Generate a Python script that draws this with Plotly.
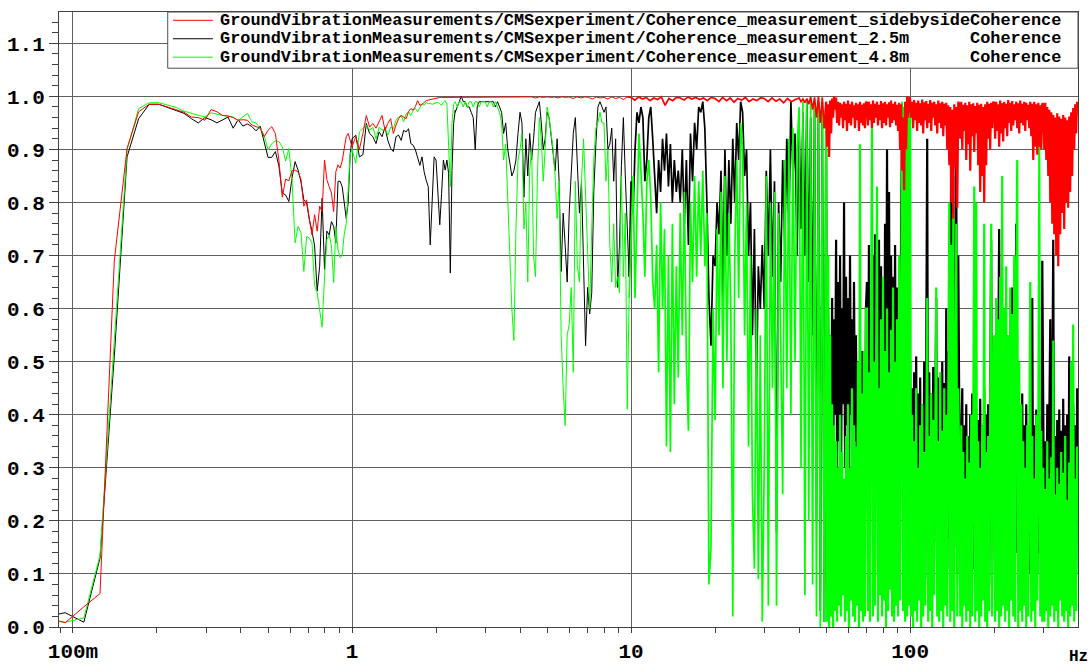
import numpy as np
import plotly.graph_objects as go

# ---------------- data ----------------
DF_HZ = 1 / 64  # FFT bin spacing
LF_BINS = list(range(5, 65)) + list(range(66, 151, 2))
LF_FREQ_HZ = [k * DF_HZ for k in LF_BINS]

# low-frequency coherence, thousandths
RED_LF = [20, 8, 38, 63, 690, 902, 971, 985, 985, 980, 975, 970, 961, 960, 955, 975, 971, 964, 963, 960,
          955, 956, 955, 946, 943, 940, 924, 936, 943, 930, 880, 810, 844, 841, 860, 861, 858, 843, 793, 805,
          768, 739, 777, 746, 793, 783, 880, 843, 830, 818, 783, 858, 871, 865, 878, 900, 924, 930, 915, 905,
          924, 900, 930, 964, 942, 949, 940, 952, 964, 936, 949, 958, 930, 946, 958, 964, 961, 958, 971, 977,
          974, 981, 992, 983, 985, 989, 992, 993, 994, 995, 996, 997, 997, 998, 998, 998, 998, 998, 998, 998,
          998, 998, 998]
BLACK_LF = [18, 27, 9, 130, 510, 886, 958, 985, 985, 979, 973, 968, 958, 950, 960, 956, 950, 956, 961, 940,
            956, 944, 948, 943, 935, 944, 914, 885, 885, 896, 869, 818, 814, 802, 846, 877, 861, 839, 805, 799,
            768, 746, 718, 633, 680, 808, 674, 746, 739, 764, 755, 724, 840, 840, 830, 800, 770, 800, 890, 920,
            927, 886, 890, 949, 930, 924, 911, 933, 924, 942, 917, 902, 896, 924, 927, 917, 936, 933, 939, 911,
            908, 899, 886, 870, 886, 858, 842, 830, 720, 817, 886, 880, 805, 758, 817, 880, 861, 880, 855, 667,
            860, 949, 974]
GREEN_LF = [14, 9, 17, 135, 540, 899, 977, 988, 988, 983, 979, 972, 968, 965, 961, 969, 966, 964, 963, 961,
            954, 961, 968, 952, 950, 940, 927, 899, 911, 916, 915, 905, 878, 902, 843, 724, 755, 743, 670, 736,
            733, 724, 643, 630, 600, 565, 660, 730, 739, 718, 649, 755, 711, 696, 700, 740, 760, 840, 890, 900,
            874, 933, 940, 946, 936, 942, 920, 942, 936, 939, 927, 942, 939, 955, 961, 964, 952, 967, 971, 964,
            974, 977, 971, 980, 986, 983, 989, 986, 987, 985, 986, 987, 989, 986, 983, 989, 992, 986, 900, 830,
            950, 985, 990]

# dense part: frequency bands and the values read inside each band
BAND_EDGES_HZ = [2.34375, 3, 4, 5, 6, 8, 10, 15, 20, 30, 40, 50, 70, 100, 150, 200, 300, 400]

# red, thousandths
RED_BANDS = [
    [998, 999, 998, 999, 999, 998, 999, 999],
    [999, 998, 999, 999, 998, 999, 999, 998],
    [999, 998, 999, 999, 997, 999, 998],
    [999, 998, 999, 997, 999, 998],
    [999, 996, 999, 997, 999, 998, 995, 999, 997],
    [998, 995, 999, 996, 998, 994, 999],
    [998, 993, 999, 995, 998, 992, 997, 994, 999, 983, 996, 992, 998],
    [997, 993, 999, 995, 998, 994, 997, 992, 998],
    [996, 990, 998, 992, 997, 989, 996, 993, 998, 990, 995, 992, 997],
    [996, 990, 997, 991, 995, 988, 996, 990, 994],
    [997, 990, 995, 988, 996, 985, 999, 975, 998, 960, 1000, 950, 998, 940],
    [990, 905, 985, 886, 992, 930, 996, 960, 1000, 975, 998, 950, 990, 945, 988, 960, 985, 940, 990, 955,
     986, 935, 992, 950, 985, 945, 990, 960, 983, 940, 988, 955, 985, 935, 990, 950, 984, 945, 987, 940, 990],
    [988, 945, 990, 955, 985, 940, 992, 950, 986, 960, 990, 945, 984, 955, 991, 940, 987, 950, 990, 945,
     985, 960, 989, 942, 992, 950, 986, 955, 990, 945, 984, 935, 988, 900, 985, 860, 960, 823, 990, 900,
     1000, 960, 998],
    [995, 960, 990, 940, 993, 955, 988, 935, 992, 950, 987, 945, 994, 930, 989, 955, 991, 940, 986, 950,
     993, 935, 988, 960, 990, 945, 985, 930, 992, 950, 987, 940, 990, 925, 986, 945, 988, 900, 983, 870,
     980, 800, 975, 770, 985, 867, 980, 790, 990],
    [985, 920, 990, 900, 984, 935, 988, 880, 983, 910, 990, 860, 985, 925, 987, 895, 982, 930, 988, 870,
     984, 820, 986, 850, 980, 800, 985, 870, 990, 920, 986, 900, 988, 940, 990],
    [988, 920, 990, 935, 985, 905, 992, 930, 987, 915, 990, 940, 986, 925, 993, 950, 988, 935, 991, 945,
     985, 955, 990, 940, 987, 930, 992, 950, 986, 945, 990, 935, 988, 955, 984, 940, 990, 925, 986, 880,
     990, 905, 985, 890, 988, 905, 983, 900, 987],
    [985, 900, 988, 880, 980, 850, 975, 800, 970, 760, 965, 740, 960, 700, 968, 680, 962, 740, 958, 780,
     965, 750, 960, 800, 955, 790, 962, 820, 970, 850, 978, 900, 985, 930, 990],
]

# black, percent
BLACK_BANDS = [
    [97, 98, 99, 100, 99, 99, 98, 98, 97, 96, 90, 98, 99, 99, 99],
    [99, 99, 99, 99, 99, 98, 99, 98, 97, 93, 95, 90, 87, 85, 86, 88, 93],
    [97, 95, 81, 92, 85, 93, 88, 92, 97, 98, 99, 95, 90, 92],
    [97, 96, 93, 90, 86, 92, 84, 67, 78, 72, 65],
    [78, 87, 93, 96, 86, 78, 84, 69, 53, 64, 59, 63, 82, 91, 98, 99, 98],
    [97, 98, 90, 91, 94, 84, 92, 64, 72, 87, 96, 85, 76, 66],
    [84, 78, 90, 97, 95, 98, 96, 84, 88, 96, 98, 92, 86, 78, 88, 82, 92, 86, 93, 83, 91, 80, 88, 82, 86],
    [80, 90, 76, 88, 72, 93, 84, 95, 90, 98, 97, 99, 94, 80, 62, 53, 70],
    [68, 80, 74, 86, 62, 90, 70, 88, 76, 92, 80, 95, 88, 99, 97, 85, 90, 70, 80, 55, 75, 44, 68, 60, 72],
    [60, 86, 70, 90, 66, 84, 18, 80, 65, 88, 72, 92, 75, 99, 85, 93, 70],
    [95, 75, 97, 70, 99, 65, 96, 55, 98, 20, 99, 3, 98, 1],
    [90, 20, 60, 35, 55, 30, 62, 25, 58, 40, 73, 30, 65, 35, 70, 28, 60, 42, 80, 30, 66, 38, 62, 25, 70,
     40, 58, 30, 65, 35, 55, 20, 50, 30, 45, 15, 52, 25, 48, 20, 60],
    [65, 30, 72, 25, 60, 40, 70, 35, 74, 28, 66, 45, 73, 30, 68, 38, 62, 25, 76, 35, 90, 40, 82, 30, 70,
     45, 66, 35, 72, 28, 64, 40, 60, 30, 75, 98, 35, 80, 25, 70, 20, 65, 30],
    [50, 10, 45, 15, 48, 8, 51, 12, 44, 18, 47, 10, 42, 14, 50, 9, 46, 92, 12, 48, 15, 44, 8, 49, 16, 45,
     62, 10, 47, 13, 43, 18, 50, 9, 46, 14, 60, 11, 52, 17, 58, 92, 12, 85, 15, 72, 88, 10, 70],
    [40, 8, 35, 45, 10, 38, 12, 42, 6, 36, 14, 40, 9, 44, 11, 37, 8, 41, 13, 39, 7, 43, 10, 38, 12, 45, 9,
     40, 14, 42, 8, 38, 73, 10, 48],
    [50, 10, 55, 20, 48, 75, 15, 52, 18, 58, 12, 50, 22, 55, 10, 47, 16, 53, 64, 12, 50, 20, 76, 14, 45,
     18, 40, 10, 44, 15, 38, 12, 42, 20, 36, 10, 40, 15, 62, 12, 38, 18, 41, 10, 35, 14, 40, 12, 69],
    [40, 10, 35, 15, 42, 8, 38, 58, 12, 40, 73, 10, 36, 14, 39, 9, 41, 12, 37, 16, 43, 10, 38, 13, 40, 9,
     51, 15, 36, 10, 42, 12, 38, 10, 45],
]

# green, percent
GREEN_BANDS = [
    [99, 98, 99, 99, 98, 99, 98, 99, 99, 98, 99, 99, 98, 99, 99],
    [99, 98, 99, 99, 98, 99, 98, 97, 95, 88, 91, 80, 70, 60, 54, 75, 88],
    [90, 93, 75, 80, 65, 86, 90, 70, 66, 85, 96, 92, 84, 90],
    [98, 96, 93, 90, 85, 77, 84, 55, 45, 38, 55],
    [57, 64, 48, 84, 68, 65, 84, 92, 80, 72, 60, 75, 88, 94, 95, 97, 95],
    [95, 84, 90, 72, 65, 76, 64, 66, 63, 85, 66, 78, 41, 62],
    [72, 85, 62, 78, 93, 86, 78, 66, 84, 88, 81, 65, 60, 72, 48, 80, 60, 75, 34, 70, 33, 76, 42, 68, 47],
    [78, 55, 82, 50, 37, 80, 65, 85, 66, 84, 70, 86, 68, 78, 8, 15, 60],
    [39, 75, 55, 82, 45, 85, 50, 78, 60, 2, 70, 88, 62, 95, 90, 55, 80, 34, 70, 25, 11, 60, 9, 55, 1],
    [30, 85, 4, 80, 45, 82, 4, 78, 55, 25, 88, 45, 92, 40, 94, 50, 90],
    [98, 30, 99, 6, 99, 20, 99, 8, 99, 2, 99, 0, 99, 1],
    [95, 1, 70, 0, 55, 2, 42, 0, 38, 3, 35, 1, 30, 4, 40, 2, 33, 6, 28, 1, 36, 3, 42, 0, 30, 5, 45, 2, 38,
     1, 34, 4, 50, 0, 91, 3, 44, 1, 52, 2, 60],
    [60, 3, 48, 1, 55, 94, 2, 50, 4, 62, 83, 1, 45, 6, 58, 2, 66, 5, 52, 0, 60, 3, 48, 7, 56, 2, 64, 1, 50,
     4, 58, 2, 70, 5, 62, 99, 3, 98, 1, 99, 2, 99, 4],
    [98, 2, 40, 0, 35, 3, 45, 1, 30, 5, 38, 0, 42, 2, 33, 4, 47, 62, 1, 36, 3, 44, 0, 39, 6, 41, 64, 2, 35,
     1, 48, 3, 37, 0, 45, 4, 40, 2, 50, 80, 1, 72, 3, 78, 0, 60, 76, 2, 45],
    [30, 2, 38, 0, 33, 4, 28, 1, 36, 3, 31, 0, 40, 2, 34, 83, 1, 80, 3, 35, 0, 30, 2, 38, 5, 76, 1, 33, 0,
     36, 3, 40, 76, 2, 45],
    [55, 1, 62, 3, 58, 0, 66, 2, 85, 4, 60, 1, 68, 3, 55, 0, 64, 5, 59, 2, 70, 1, 62, 88, 0, 50, 3, 42, 1,
     35, 4, 30, 0, 38, 2, 33, 65, 1, 36, 3, 28, 0, 40, 5, 34, 91, 2, 37, 1],
    [30, 1, 26, 3, 35, 0, 28, 2, 32, 4, 54, 1, 25, 3, 30, 0, 27, 5, 33, 2, 29, 1, 36, 3, 24, 0, 31, 2, 50,
     4, 57, 1, 28, 3, 34],
]

LEGEND_LABELS = [
    "GroundVibrationMeasurements/CMSexperiment/Coherence_measurement_sidebysideCoherence",
    "GroundVibrationMeasurements/CMSexperiment/Coherence_measurement_2.5m" + "\u00a0" * 6 + "Coherence",
    "GroundVibrationMeasurements/CMSexperiment/Coherence_measurement_4.8m" + "\u00a0" * 6 + "Coherence",
]
X_TICK_VALS = [0.1, 1, 10, 100]
X_TICK_TEXT = ["100m", "1", "10", "100"]
Y_TICK_VALS = [round(0.1 * i, 1) for i in range(12)]
Y_TICK_TEXT = ["%.1f" % v for v in Y_TICK_VALS]

# line width per group of bands (denser data drawn a bit heavier, like the original raster)
WIDTH_GROUPS = [(0, 6, 1.0), (6, 11, 1.7), (11, 17, 2.2)]


def series_segments(lf_vals, lf_scale, bands, band_scale):
    segs = []
    last_x, last_y = None, None
    for b0, b1, width in WIDTH_GROUPS:
        if b0 == 0:
            xs = list(LF_FREQ_HZ)
            ys = [v / lf_scale for v in lf_vals]
        else:
            xs, ys = [last_x], [last_y]
        for i in range(b0, b1):
            f0, f1, vals = BAND_EDGES_HZ[i], BAND_EDGES_HZ[i + 1], bands[i]
            xs.extend(np.geomspace(f0, f1, len(vals), endpoint=False).tolist())
            ys.extend(v / band_scale for v in vals)
        last_x, last_y = xs[-1], ys[-1]
        segs.append((xs, ys, width))
    return segs


RED = "#ff0000"
BLACK = "#000000"
GREEN = "#00ff00"
FONT = "Liberation Mono"

fig = go.Figure()
for lf, lfs, bands, bs, col, name in [
    (BLACK_LF, 1000, BLACK_BANDS, 100, BLACK, LEGEND_LABELS[1]),
    (GREEN_LF, 1000, GREEN_BANDS, 100, GREEN, LEGEND_LABELS[2]),
    (RED_LF, 1000, RED_BANDS, 1000, RED, LEGEND_LABELS[0]),
]:
    for xs, ys, w in series_segments(lf, lfs, bands, bs):
        fig.add_trace(go.Scatter(x=xs, y=ys, mode="lines", line=dict(color=col, width=w), name=name))

minor_x = [m * 10.0 ** e for e in range(-2, 3) for m in range(2, 10)]
grid_col = "#606060"
axis_col = "#404040"

fig.update_xaxes(
    type="log", range=[-1.0501, 2.6015], automargin=False,
    tickvals=X_TICK_VALS, ticktext=["<b>%s</b>" % t for t in X_TICK_TEXT],
    ticks="outside", ticklen=5, tickcolor=axis_col,
    showgrid=True, gridcolor=grid_col, gridwidth=1,
    showline=True, linecolor=axis_col, linewidth=1, mirror=True, zeroline=False,
    tickfont=dict(family=FONT, size=21, color="black"),
    minor=dict(tickvals=minor_x, ticks="outside", ticklen=5, tickcolor=axis_col, showgrid=False),
)
fig.update_yaxes(
    range=[0, 1.159], automargin=False,
    tickvals=Y_TICK_VALS, ticktext=["<b>%s</b>" % t for t in Y_TICK_TEXT],
    ticks="outside", ticklen=9, tickcolor=axis_col,
    showgrid=True, gridcolor=grid_col, gridwidth=1,
    showline=True, linecolor=axis_col, linewidth=1, mirror=True, zeroline=False,
    tickfont=dict(family=FONT, size=21, color="black"),
    minor=dict(dtick=0.02, tick0=0, ticks="outside", ticklen=6, tickcolor=axis_col, showgrid=False),
)

# legend box drawn by hand to match the original layout
shapes = [dict(type="rect", xref="paper", yref="paper", x0=0.1067, x1=1.0, y0=0.9086, y1=1.0,
               line=dict(color="#505050", width=1), fillcolor="white", layer="above")]
annotations = []
row_y = [0.9865, 0.9565, 0.9265]
for lbl, col, yy in zip(LEGEND_LABELS, [RED, BLACK, GREEN], row_y):
    shapes.append(dict(type="line", xref="paper", yref="paper", x0=0.1118, x1=0.151, y0=yy, y1=yy,
                       line=dict(color=col, width=1), layer="above"))
    annotations.append(dict(xref="paper", yref="paper", x=0.1565, y=yy, xanchor="left", yanchor="middle",
                            text="<b>%s</b>" % lbl, showarrow=False,
                            font=dict(family=FONT, size=16.9, color="black")))
annotations.append(dict(xref="paper", yref="paper", x=0.989, y=-0.049, xanchor="left", yanchor="middle",
                        text="<b>Hz</b>", showarrow=False, font=dict(family=FONT, size=16, color="black")))

fig.update_layout(
    width=1090, height=666,
    margin=dict(l=59, r=12, t=12, b=39),
    plot_bgcolor="white", paper_bgcolor="white",
    showlegend=False, shapes=shapes, annotations=annotations,
)

fig.write_html("out.html")
